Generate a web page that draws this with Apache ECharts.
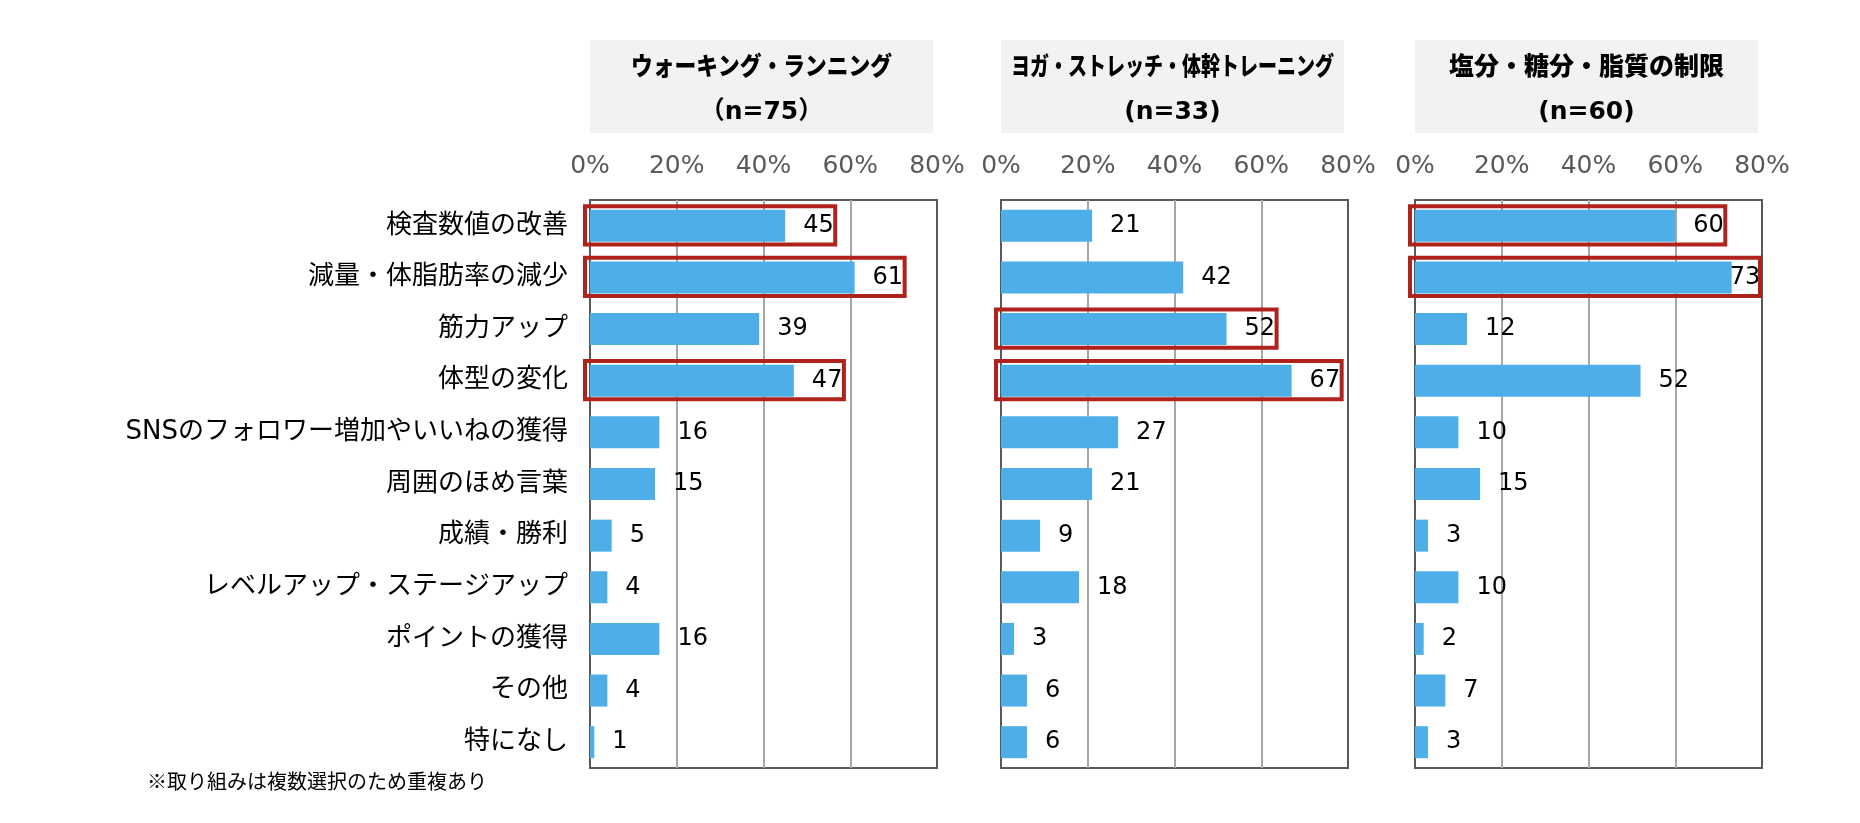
<!DOCTYPE html>
<html>
<head>
<meta charset="utf-8">
<script src="https://cdn.jsdelivr.net/npm/echarts@6/dist/echarts.min.js"></script>
<style>
  html, body { margin: 0; padding: 0; background: #fff; }
  #chart { width: 1860px; height: 823px; }
</style>
</head>
<body>
<div id="chart"></div>
<script>
// categories, top to bottom
var categories = ['検査数値の改善', '減量・体脂肪率の減少', '筋力アップ', '体型の変化',
  'SNSのフォロワー増加やいいねの獲得', '周囲のほめ言葉', '成績・勝利',
  'レベルアップ・ステージアップ', 'ポイントの獲得', 'その他', '特になし'];

// panel titles (two lines each)
var titleMain = ['ウォーキング・ランニング', 'ヨガ・ストレッチ・体幹トレーニング', '塩分・糖分・脂質の制限'];
var titleN = ['（n=75）', '(n=33)', '(n=60)'];

// percentages per panel
var walking = [45, 61, 39, 47, 16, 15, 5, 4, 16, 4, 1];
var yoga = [21, 42, 52, 67, 27, 21, 9, 18, 3, 6, 6];
var diet = [60, 73, 12, 52, 10, 15, 3, 10, 2, 7, 3];

// rows framed in red, per panel
var highlightWalking = [0, 1, 3];
var highlightYoga = [2, 3];
var highlightDiet = [0, 1];

var xTicks = [0, 20, 40, 60, 80];

var panels = [walking, yoga, diet];
var highlights = [highlightWalking, highlightYoga, highlightDiet];

// layout
var gridLefts = [590, 1001, 1415];
var gridW = 347;
var gridTop = 200;
var gridH = 568;
var jpFont = "'DejaVu Sans', 'Noto Sans CJK JP'";

var myChart = echarts.init(document.getElementById('chart'));

var grids = [], xAxes = [], yAxes = [], series = [], graphics = [];

panels.forEach(function (vals, p) {
  grids.push({
    left: gridLefts[p], top: gridTop, width: gridW, height: gridH,
    show: true, borderColor: '#595959', borderWidth: 2
  });
  xAxes.push({
    gridIndex: p, type: 'value', position: 'top',
    min: xTicks[0], max: xTicks[xTicks.length - 1], interval: xTicks[1] - xTicks[0],
    axisLine: { show: false }, axisTick: { show: false },
    axisLabel: {
      formatter: '{value}%', color: '#595959', fontSize: 25, margin: 21,
      fontFamily: 'DejaVu Sans', showMinLabel: true, showMaxLabel: true
    },
    splitLine: {
      lineStyle: { color: ['rgba(0,0,0,0)', '#a6a6a6', '#a6a6a6', '#a6a6a6', 'rgba(0,0,0,0)'], width: 2 }
    }
  });
  yAxes.push({
    gridIndex: p, type: 'category', data: categories, inverse: true,
    axisLine: { show: false }, axisTick: { show: false },
    axisLabel: {
      show: p === 0, color: '#000', fontSize: 26, margin: 22, fontFamily: jpFont
    }
  });

  series.push({
    type: 'bar', xAxisIndex: p, yAxisIndex: p,
    barCategoryGap: '38%',
    itemStyle: { color: '#4daee8' },
    label: {
      show: true, position: 'right', distance: 18,
      color: '#000', fontSize: 24, fontFamily: 'DejaVu Sans'
    },
    data: vals.map(function (v) {
      // labels near the right edge sit over the bar end
      return v > 70 ? { value: v, label: { distance: -2 } } : v;
    })
  });

  // red frames around highlighted rows
  series.push({
    type: 'custom', xAxisIndex: p, yAxisIndex: p, z: 5,
    encode: { x: 0, y: 1 },
    data: highlights[p].map(function (i) {
      return [Math.min(vals[i] + 12, 80), i];
    }),
    renderItem: function (params, api) {
      var row = api.value(1);
      var a = api.coord([0, row]);
      var b = api.coord([api.value(0), row]);
      var band = api.size([0, 1])[1];
      var h = band * 0.74;
      return {
        type: 'rect',
        shape: { x: a[0] - 5, y: a[1] - h / 2 - 0.5, width: b[0] - a[0] + 3, height: h },
        style: { fill: 'none', stroke: '#b0231c', lineWidth: 4 }
      };
    }
  });

  // title boxes
  var cx = gridLefts[p] + (gridW - 4) / 2;
  graphics.push({
    type: 'rect', x: gridLefts[p], y: 40, z: -1,
    shape: { width: gridW - 4, height: 93 },
    style: { fill: '#f2f2f2' }
  });
  graphics.push({
    type: 'text', x: cx, y: 65, scaleX: [0.87, 0.76, 1][p],
    style: {
      text: titleMain[p], fill: '#000', align: 'center', verticalAlign: 'middle',
      font: "900 25px 'Noto Sans CJK JP'"
    }
  });
  graphics.push({
    type: 'text', x: cx, y: 112,
    style: {
      text: titleN[p], fill: '#000', align: 'center', verticalAlign: 'middle',
      font: "bold 25px 'DejaVu Sans', 'Noto Sans CJK JP'"
    }
  });
});

graphics.push({
  type: 'text', x: 147, y: 781,
  style: {
    text: '※取り組みは複数選択のため重複あり', fill: '#000',
    verticalAlign: 'middle', font: "20px 'Noto Sans CJK JP'"
  }
});

var option = {
  backgroundColor: '#fff',
  animation: false,
  grid: grids,
  xAxis: xAxes,
  yAxis: yAxes,
  series: series,
  graphic: graphics
};

myChart.setOption(option);
</script>
</body>
</html>
